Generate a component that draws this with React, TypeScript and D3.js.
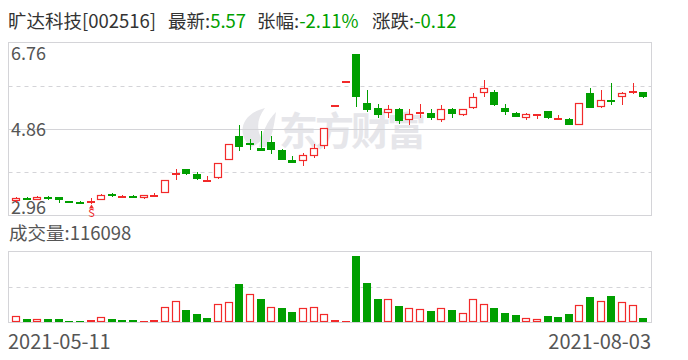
import React from 'react';
import * as d3 from 'd3';

const stockName = '旷达科技[002516]';
const latestLabel = '最新:';
const latestValue = '5.57';
const pctLabel = '张幅:';
const pctValue = '-2.11%';
const chgLabel = '涨跌:';
const chgValue = '-0.12';
const volumeLabel = '成交量:116098';
const dateLabels = ['2021-05-11', '2021-08-03'];
const priceTicks = [6.76, 4.86, 2.96];
const dashedPriceLines = [5.81, 3.91];
const watermark = '东方财富';
const markerIndex = 7;
const markerText = 'S';

const opens = [3.27, 3.35, 3.31, 3.36, 3.36, 3.27, 3.26, 3.25, 3.30, 3.43,
  3.38, 3.39, 3.34, 3.38, 3.46, 3.88, 3.99, 3.88, 3.73, 3.78,
  4.18, 4.70, 4.55, 4.44, 4.57, 4.39, 4.19, 4.15, 4.26, 4.49,
  5.38, 5.92, 6.51, 5.43, 5.33, 5.21, 5.29, 5.05, 5.22, 5.22,
  5.05, 5.29, 5.16, 5.33, 5.65, 5.68, 5.33, 5.22, 5.10, 5.16,
  5.25, 5.09, 5.07, 4.94, 5.64, 5.35, 5.50, 5.56, 5.64, 5.68];
const highs = [3.37, 3.36, 3.38, 3.39, 3.36, 3.28, 3.27, 3.34, 3.44, 3.45,
  3.40, 3.41, 3.41, 3.45, 3.75, 3.98, 3.99, 3.91, 3.82, 4.12,
  4.53, 4.94, 4.65, 4.81, 4.70, 4.43, 4.26, 4.34, 4.54, 4.89,
  5.38, 5.92, 6.51, 5.71, 5.40, 5.38, 5.32, 5.29, 5.42, 5.29,
  5.38, 5.33, 5.31, 5.65, 5.93, 5.72, 5.40, 5.24, 5.22, 5.20,
  5.25, 5.16, 5.11, 5.44, 5.75, 5.71, 5.86, 5.68, 5.86, 5.68];
const lows = [3.24, 3.31, 3.30, 3.31, 3.24, 3.24, 3.22, 3.22, 3.29, 3.37,
  3.38, 3.36, 3.33, 3.37, 3.45, 3.75, 3.84, 3.75, 3.73, 3.77,
  4.17, 4.37, 4.40, 4.38, 4.31, 4.18, 4.11, 4.04, 4.22, 4.43,
  5.38, 5.92, 5.34, 5.23, 5.11, 5.10, 4.97, 4.94, 5.11, 5.05,
  5.01, 5.10, 5.14, 5.31, 5.57, 5.37, 5.16, 5.13, 5.05, 5.09,
  5.09, 5.05, 4.94, 4.94, 5.32, 5.32, 5.38, 5.38, 5.62, 5.53];
const closes = [3.35, 3.34, 3.36, 3.35, 3.29, 3.26, 3.25, 3.27, 3.41, 3.40,
  3.39, 3.38, 3.40, 3.42, 3.74, 3.90, 3.87, 3.77, 3.75, 4.12,
  4.53, 4.46, 4.54, 4.38, 4.40, 4.18, 4.11, 4.29, 4.45, 4.89,
  5.38, 5.92, 5.56, 5.27, 5.16, 5.30, 5.03, 5.19, 5.23, 5.11,
  5.31, 5.18, 5.29, 5.57, 5.75, 5.38, 5.24, 5.13, 5.18, 5.20,
  5.11, 5.10, 4.94, 5.44, 5.33, 5.49, 5.46, 5.64, 5.69, 5.57];
const volumes = [165000, 91000, 91000, 91000, 91000, 42000, 42000, 67000, 141000, 91000,
  67000, 67000, 42000, 67000, 388000, 536000, 314000, 215000, 116000, 462000,
  511000, 956000, 709000, 585000, 388000, 363000, 264000, 363000, 388000, 215000,
  67000, 42000, 1647000, 981000, 585000, 585000, 412000, 363000, 338000, 289000,
  363000, 314000, 240000, 585000, 462000, 363000, 240000, 190000, 116000, 91000,
  165000, 141000, 215000, 437000, 635000, 536000, 659000, 511000, 437000, 116098];

const RED = '#f22a2a';
const GREEN = '#009f00';
const GRID = '#d4d4d8';
const TEXT = '#333';
const AXIS_TEXT = '#555';
const FONT = '"Microsoft YaHei", "Noto Sans CJK SC", "Noto Sans", sans-serif';

export default function App() {
  const W = 688, H = 360;
  const pTop = 42.5, pBottom = 215.5, left = 8.5, right = 651.5;
  const vTop = 251.5, vBottom = 322.5;
  const n = opens.length;
  const idx = d3.range(n);

  const x = d3.scaleBand<number>().domain(idx).range([8, 651]).paddingInner(0.28).paddingOuter(0.385);
  const y = d3.scaleLinear().domain([2.96, 6.76]).range([pBottom, pTop]);
  const yv = d3.scaleLinear().domain([0, 1755000]).range([vBottom, vTop]);

  const isUp = (i: number) => {
    if (closes[i] !== opens[i]) return closes[i] > opens[i];
    return i === 0 ? true : closes[i] >= closes[i - 1];
  };
  const volUp = (i: number) => (i === 0 ? closes[i] >= opens[i] : closes[i] >= closes[i - 1]);

  const bw = 8;
  const mx = x(markerIndex)!;
  const mcx = Math.round(mx) + 4.5;
  const mTip = Math.round(y(lows[markerIndex])) + 0.5;

  return (
    <svg width={W} height={H} style={{ position: 'absolute', left: 0, top: 0, background: '#fff' }} fontFamily={FONT}>
      <rect x={0} y={0} width={W} height={H} fill="#fff" />
      {/* title */}
      <text y={27.5} fontSize={18.5} fill={TEXT}>
        <tspan x={8}>{stockName}</tspan>
        <tspan x={168}>{latestLabel}</tspan>
        <tspan fill={GREEN}>{latestValue}</tspan>
        <tspan x={257}>{pctLabel}</tspan>
        <tspan fill={GREEN}>{pctValue}</tspan>
        <tspan x={372}>{chgLabel}</tspan>
        <tspan fill={GREEN}>{chgValue}</tspan>
      </text>

      {/* watermark */}
      <g fill="#e6e6ea">
        <path d="M251,147 C236,134 241,114 265,108 C257,118 256,130 262,139 C259,143 255,146 251,147 Z" />
        <path d="M259,147 C262,133 267,121 276,112 C274,126 272,138 266,147 Z" />
        <text x={279} y={145} fontSize={39} fontWeight={700} letterSpacing={-3}>{watermark}</text>
      </g>

      {/* price grid */}
      {dashedPriceLines.map((p) => (
        <line key={p} x1={left} x2={right} y1={Math.round(y(p)) + 0.5} y2={Math.round(y(p)) + 0.5}
          stroke={GRID} strokeDasharray="4,4" />
      ))}
      <line x1={left} x2={right} y1={Math.round(y(priceTicks[1])) + 0.5} y2={Math.round(y(priceTicks[1])) + 0.5} stroke={GRID} />
      <rect x={left} y={pTop} width={right - left} height={pBottom - pTop} fill="none" stroke={GRID} />

      {/* price labels */}
      <text x={11} y={y(priceTicks[0]) + 17.5} fontSize={18} fill={AXIS_TEXT}>{priceTicks[0].toFixed(2)}</text>
      <text x={11} y={y(priceTicks[1]) + 7} fontSize={18} fill={AXIS_TEXT}>{priceTicks[1].toFixed(2)}</text>
      <text x={11} y={y(priceTicks[2]) - 2} fontSize={18} fill={AXIS_TEXT}>{priceTicks[2].toFixed(2)}</text>

      {/* candles */}
      {idx.map((i) => {
        const bx = Math.round(x(i)!);
        const cx = bx + 4.5;
        const up = isUp(i);
        const col = up ? RED : GREEN;
        const yo = Math.round(y(opens[i]));
        const yc = Math.round(y(closes[i]));
        const yt = Math.min(yo, yc);
        const yb = Math.max(yo, yc);
        const h = yb - yt;
        return (
          <g key={i}>
            <line x1={cx} x2={cx} y1={Math.round(y(highs[i]))} y2={Math.round(y(lows[i]))} stroke={col} />
            {h < 3 ? (
              <rect x={bx} y={yt} width={bw} height={Math.max(2, h)} fill={col} />
            ) : up ? (
              <rect x={bx + 0.5} y={yt + 0.5} width={bw - 1} height={h - 1} fill="#fff" stroke={col} strokeWidth={1.2} />
            ) : (
              <rect x={bx} y={yt} width={bw} height={h} fill={col} />
            )}
          </g>
        );
      })}

      {/* marker */}
      <path d={`M${mcx},${mTip} L${mcx - 2.5},${mTip + 4} L${mcx + 2.5},${mTip + 4} Z`} fill={RED} />
      <text x={mcx} y={mTip + 12.5} fontSize={11} textAnchor="middle" fill={RED}>{markerText}</text>

      {/* volume */}
      <text x={9} y={240} fontSize={18.5} fill={AXIS_TEXT}>{volumeLabel}</text>
      <line x1={left} x2={right} y1={Math.round((vTop + vBottom) / 2) + 0.5} y2={Math.round((vTop + vBottom) / 2) + 0.5}
        stroke={GRID} strokeDasharray="4,4" />
      {idx.map((i) => {
        const bx = Math.round(x(i)!);
        const top = Math.round(yv(volumes[i]));
        const h = vBottom - 0.5 - top;
        const up = volUp(i);
        if (up && h >= 3) {
          return <rect key={i} x={bx + 0.5} y={top + 0.5} width={bw - 1} height={h - 1} fill="#fff" stroke={RED} strokeWidth={1.2} />;
        }
        return <rect key={i} x={bx} y={top} width={bw} height={h} fill={up ? RED : GREEN} />;
      })}
      <rect x={left} y={vTop} width={right - left} height={vBottom - vTop} fill="none" stroke={GRID} />

      {/* dates */}
      <text x={8} y={348.5} fontSize={20} fill={AXIS_TEXT}>{dateLabels[0]}</text>
      <text x={651} y={348.5} fontSize={20} fill={AXIS_TEXT} textAnchor="end">{dateLabels[1]}</text>
    </svg>
  );
}
